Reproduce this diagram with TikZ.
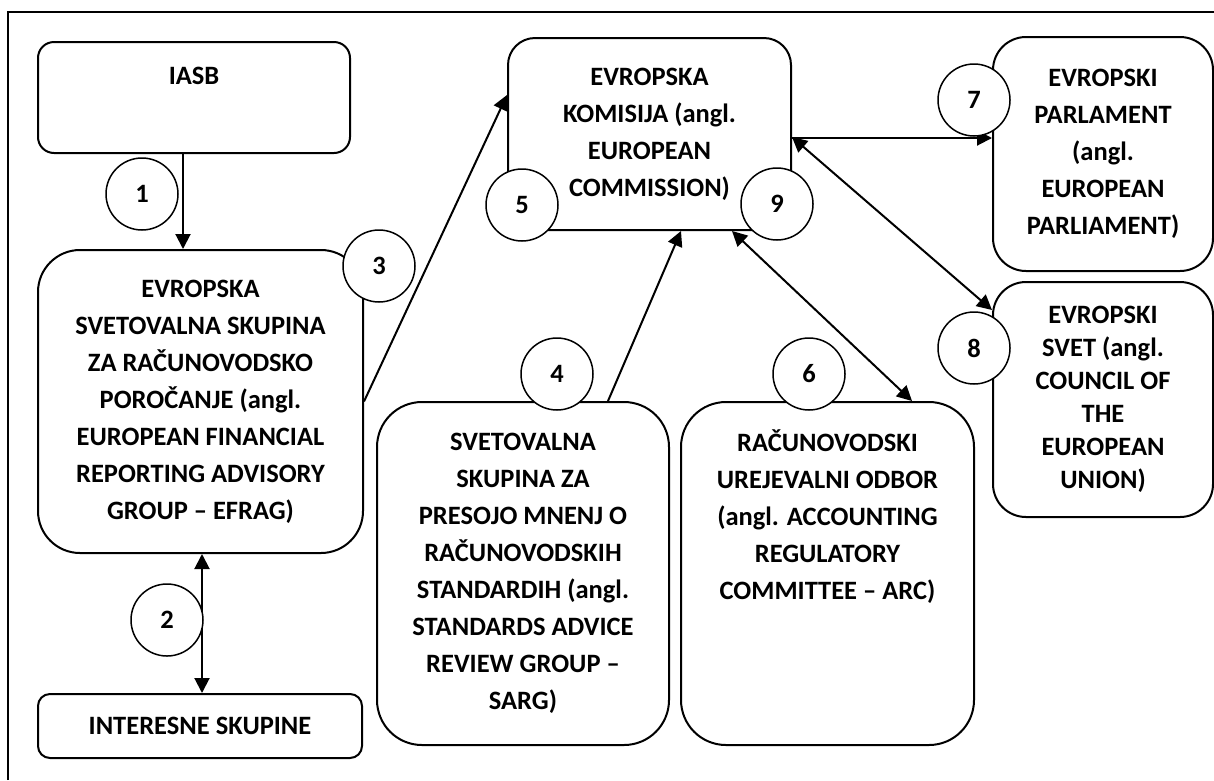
\documentclass[tikz,border=0pt]{standalone}
\usepackage{fontspec}
\setmainfont{Carlito}
\usepackage{tikz}
\usetikzlibrary{arrows.meta,arrows}
\usetikzlibrary{positioning}

\tikzset{
  box/.style={draw, line width=2pt, align=center, inner sep=0pt,
    font=\fontsize{26.5}{37}\selectfont\bfseries},
  num/.style={circle, draw, fill=white, line width=1.5pt, minimum size=72pt,
    inner sep=0pt, font=\fontsize{26.5}{30}\selectfont\bfseries},
  arr/.style={line width=2pt, -{Triangle[length=15pt,width=15pt]}},
  darr/.style={line width=2pt, {Triangle[length=15pt,width=15pt]}-{Triangle[length=15pt,width=15pt]}}
}

\begin{document}
\begin{tikzpicture}[x=1pt, y=-1pt]

\useasboundingbox (0,0) rectangle (1214,780);

% outer frame
\draw[line width=2.6pt] (8,780) -- (8,12) -- (1214,12);

% left column
\node[box, rounded corners=16pt, minimum width=312pt, minimum height=111pt, text depth=44pt]
  (iasb) at (194,97.5) {IASB};
\node[box, rounded corners=42pt, minimum width=325pt, minimum height=303pt]
  (efrag) at (200.5,401.5) {EVROPSKA\\SVETOVALNA SKUPINA\\ZA RAČUNOVODSKO\\POROČANJE (angl.\\EUROPEAN FINANCIAL\\REPORTING ADVISORY\\GROUP -- EFRAG)};
\node[box, rounded corners=12pt, minimum width=324pt, minimum height=64pt]
  (interesne) at (200,726) {INTERESNE SKUPINE};

% middle
\node[box, rounded corners=27pt, minimum width=283pt, minimum height=192pt]
  (komisija) at (649.5,134) {EVROPSKA\\KOMISIJA (angl.\\EUROPEAN\\COMMISSION)};
\node[box, rounded corners=45pt, minimum width=292pt, minimum height=343pt]
  (sarg) at (523,573.5) {SVETOVALNA\\SKUPINA ZA\\PRESOJO MNENJ O\\RAČUNOVODSKIH\\STANDARDIH (angl.\\STANDARDS ADVICE\\REVIEW GROUP --\\SARG)};
\node[box, rounded corners=45pt, minimum width=293pt, minimum height=343pt, text depth=117pt]
  (arc) at (827.5,573.5) {RAČUNOVODSKI\\UREJEVALNI ODBOR\\(angl. ACCOUNTING\\REGULATORY\\COMMITTEE -- ARC)};

% right column
\node[box, rounded corners=33pt, minimum width=220pt, minimum height=234pt]
  (parlament) at (1103,154) {EVROPSKI\\PARLAMENT\\(angl.\\EUROPEAN\\PARLIAMENT)};
\node[box, rounded corners=33pt, minimum width=220pt, minimum height=235pt,
  font=\fontsize{26.5}{33}\selectfont\bfseries]
  (svet) at (1103,399.5) {EVROPSKI\\SVET (angl.\\COUNCIL OF\\THE\\EUROPEAN\\UNION)};

% connectors
\draw[arr] ([xshift=-11pt]iasb.south) -- ([xshift=-17.5pt]efrag.north);
\draw[darr] ([xshift=1.5pt]efrag.south) -- ([xshift=2pt]interesne.north);
\draw[arr] (efrag.east) -- ([yshift=39pt]komisija.west);
\draw[arr] ([xshift=85pt]sarg.north) -- ([xshift=31.5pt]komisija.south);
\draw[darr] ([xshift=82.5pt]komisija.south) -- ([xshift=84.5pt]arc.north);
\draw[arr] ([yshift=-4pt]komisija.east) -- ([yshift=16pt]parlament.west);
\draw[darr] ([yshift=-3pt]komisija.east) -- ([yshift=89.5pt]svet.west);

% numbered circles
\node[num] (n1) at (142,194) {1};
\node[num] (n2) at (167,620) {2};
\node[num] (n3) at (379,266) {3};
\node[num] (n4) at (557,374) {4};
\node[num] (n5) at (522,205) {5};
\node[num] (n6) at (809,374) {6};
\node[num] (n7) at (974,100) {7};
\node[num] (n8) at (974,348) {8};
\node[num] (n9) at (777,204) {9};

\end{tikzpicture}
\end{document}
